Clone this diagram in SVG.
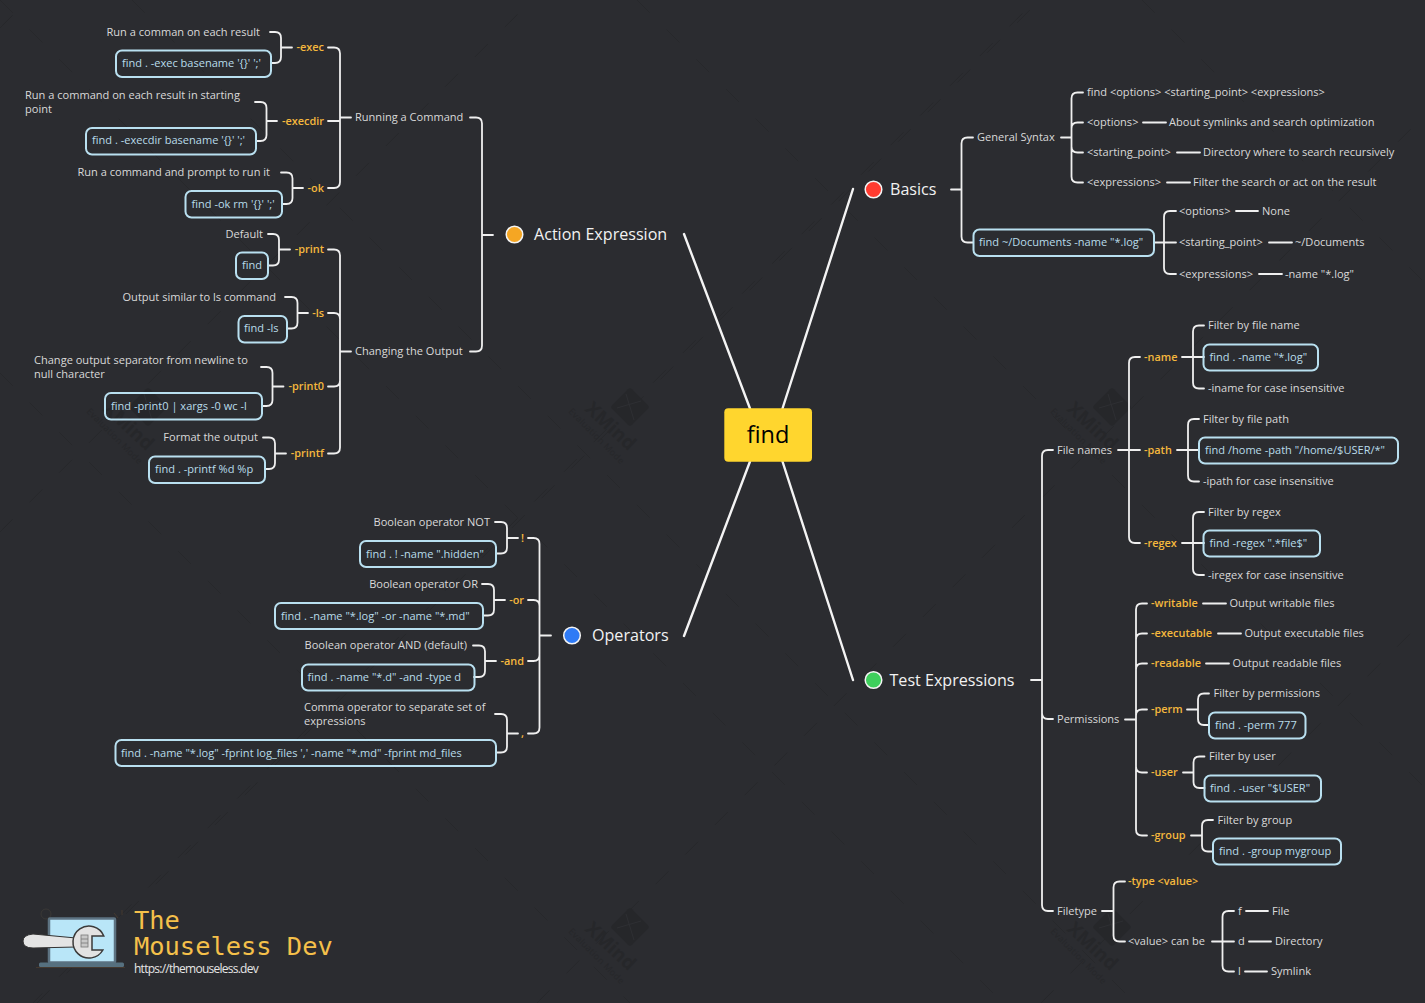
<svg xmlns="http://www.w3.org/2000/svg" width="1425" height="1003" viewBox="0 0 1425 1003">
<defs>
<g id="wm"><rect x="-14" y="-14" width="28" height="28" rx="3" transform="rotate(45)" fill="#26272a"/>
<path d="M-4 -13L4 13M-13 1L11 -6" stroke="#2e2f33" stroke-width="1" fill="none"/>
<g transform="translate(-46 3) rotate(43)"><text x="0" y="0" style="font-size:19px;font-weight:700;fill:#26272a;transform:none">XMind</text></g>
<g transform="translate(-62 5) rotate(45)"><text x="0" y="0" style="font-size:9px;fill:#26272a;letter-spacing:.3px;transform:none">Evaluation Mode</text></g></g>
</defs>
<style>
text{font-family:"Open Sans","Noto Sans","DejaVu Sans",sans-serif;font-size:11.05px;fill:#d9d9d9;transform:translateY(-.5px)}
.c{fill:#b9dcea}
.k{fill:#f5b83d;font-weight:600;font-size:10.9px}
.e{text-anchor:end}
.m{font-size:16.1px;fill:#f2f2f2}
.b{fill:none;stroke:#b9e0f0;stroke-width:2}
.n{stroke:#f4f4f4;stroke-width:1.5}
#watermark path.l{stroke:#27282b;stroke-width:1;stroke-dasharray:18 24;fill:none}
#connectors path{fill:none;stroke:#efefef;stroke-width:1.8;stroke-linecap:round}
#connectors path.t{stroke-width:2.4;stroke:#f4f4f4}
</style>
<rect width="1425" height="1003" fill="#2b2c30"/>
<g id="watermark">
<path class="l" d="M0 28L28 0M0 532L532 0M0 1036L1036 0M37 1003L1040 0M537 1003L1425 115M1041 1003L1425 619M0 373L630 1003M0 0L1003 1003M132 0L1135 1003M637 0L1425 788M1142 0L1425 283"/>
<use href="#wm" x="148" y="407"/><use href="#wm" x="630" y="407"/><use href="#wm" x="1112" y="407"/>
<use href="#wm" x="630" y="927"/><use href="#wm" x="1112" y="927"/>
</g>
<g id="connectors">
<path class="t" d="M853 189L782.500 408.500M684 234L750 408.500M750 461.500L684 636M782.500 461.500L853 680"/>
<path d="M951 189.500H961.500M973 137.500H967.500Q961.500 137.500 961.500 143.500V236.500Q961.500 242.500 967.500 242.500H973"/>
<path d="M1061 137.500H1071.500M1083 92.500H1077.500Q1071.500 92.500 1071.500 98.500V176.500Q1071.500 182.500 1077.500 182.500H1083M1083 122.500H1077.500Q1071.500 122.500 1071.500 128.500M1083 152.500H1077.500Q1071.500 152.500 1071.500 146.500"/>
<path d="M1143 122.500H1166M1177 152.500H1200M1167 182.500H1190"/>
<path d="M1154 242.500H1176M1176 211H1170Q1164 211 1164 217V268Q1164 274 1170 274H1176"/>
<path d="M1236 211H1258M1269 242.500H1292M1259 274H1282"/>
<path d="M1031 680H1042M1053 450H1048Q1042 450 1042 456V905Q1042 911 1048 911H1053M1053 719H1048Q1042 719 1042 713"/>
<path d="M1118 450H1140M1140 357H1135Q1129 357 1129 363V537Q1129 543 1135 543H1140"/>
<path d="M1182 357H1204M1204 325.500H1199Q1193 325.500 1193 331.500V382.500Q1193 388.500 1199 388.500H1204"/>
<path d="M1177 450H1199M1199 419H1194Q1188 419 1188 425V475.500Q1188 481.500 1194 481.500H1199"/>
<path d="M1182 543H1204M1204 512H1199Q1193 512 1193 518V569Q1193 575 1199 575H1204"/>
<path d="M1125 719.500H1136M1147 603.500H1142Q1136 603.500 1136 609.500V829.500Q1136 835.500 1142 835.500H1147M1147 633.500H1142Q1136 633.500 1136 639.500M1147 663.500H1142Q1136 663.500 1136 669.500M1147 709.500H1142Q1136 709.500 1136 715.500M1147 772.500H1142Q1136 772.500 1136 766.500"/>
<path d="M1203 603.500H1226M1218 633.500H1241M1206 663.500H1229"/>
<path d="M1187 709.500H1198M1209 693.500H1204Q1198 693.500 1198 699.500V719Q1198 725 1204 725H1209"/>
<path d="M1183 772.500H1193.500M1204.500 756.500H1199.500Q1193.500 756.500 1193.500 762.500V782Q1193.500 788 1199.500 788H1204.500"/>
<path d="M1191 835.500H1202M1213 820H1208Q1202 820 1202 826V845.500Q1202 851.500 1208 851.500H1213"/>
<path d="M1102 911H1113.500M1125 881.500H1119.500Q1113.500 881.500 1113.500 887.500V935.500Q1113.500 941.500 1119.500 941.500H1125"/>
<path d="M1212 941.500H1234M1234 911H1228.500Q1222.500 911 1222.500 917V965.500Q1222.500 971.500 1228.500 971.500H1234"/>
<path d="M1246 911H1268M1249 941.500H1271M1245 971.500H1267"/>
<path d="M493 235H482M470 117.500H476Q482 117.500 482 123.500V345.500Q482 351.500 476 351.500H470"/>
<path d="M351 117.500H340M328 47.500H334Q340 47.500 340 53.500V182Q340 188 334 188H328M328 121H340"/>
<path d="M292 47.500H281M270 32H275Q281 32 281 38V57Q281 63 275 63H271"/>
<path d="M277 121H266.500M255 102H260.500Q266.500 102 266.500 108V135Q266.500 141 260.500 141H256"/>
<path d="M303 188H292.500M281 172.500H286.500Q292.500 172.500 292.500 178.500V198Q292.500 204 286.500 204H282"/>
<path d="M351 351.500H340M328 249.500H334Q340 249.500 340 255.500V447.500Q340 453.500 334 453.500H328M328 313H334Q340 313 340 319M328 386.500H334Q340 386.500 340 380.500"/>
<path d="M290 249.500H279M268 234H273Q279 234 279 240V259.500Q279 265.500 273 265.500H268"/>
<path d="M308 313H297.500M285 297H291.500Q297.500 297 297.500 303V322.500Q297.500 328.500 291.500 328.500H287"/>
<path d="M283.500 386.500H272.500M261 367H266.500Q272.500 367 272.500 373V400Q272.500 406 266.500 406H262"/>
<path d="M286 453.500H275M263 437.500H269Q275 437.500 275 443.500V463Q275 469 269 469H265"/>
<path d="M551 635.500H539.500M528 538H533.500Q539.500 538 539.500 544V727.500Q539.500 733.500 533.500 733.500H528M528 600H533.500Q539.500 600 539.500 606M528 661H533.500Q539.500 661 539.500 655"/>
<path d="M518 538H507M495 522H501Q507 522 507 528V547.500Q507 553.500 501 553.500H496"/>
<path d="M505 600H494M482 584H488Q494 584 494 590V609.500Q494 615.500 488 615.500H483"/>
<path d="M496 661H485M473 645.500H479Q485 645.500 485 651.500V671Q485 677 479 677H474"/>
<path d="M518 733.500H507M495 714H501Q507 714 507 720V746.500Q507 752.500 501 752.500H496"/>
</g>
<g id="find"><rect x="724.300" y="408.300" width="87.700" height="53.400" rx="4" fill="#ffd62e"/><text x="768" y="443" text-anchor="middle" style="font-size:23.500px;fill:#000">find</text></g>
<g id="basics"><circle cx="873.500" cy="189.500" r="8.300" fill="#ff3b30" class="n"/><text class="m" x="890" y="195.500">Basics</text>
<text x="977" y="141.500">General Syntax</text>
<text x="1087" y="96.500">find &lt;options&gt; &lt;starting_point&gt; &lt;expressions&gt;</text>
<text x="1087" y="126.500">&lt;options&gt;</text><text x="1169" y="126.500">About symlinks and search optimization</text>
<text x="1087" y="156.500">&lt;starting_point&gt;</text><text x="1203" y="156.500">Directory where to search recursively</text>
<text x="1087" y="186.500">&lt;expressions&gt;</text><text x="1193" y="186.500">Filter the search or act on the result</text>
<rect class="b" x="973.500" y="229.500" width="180.500" height="26.500" rx="6"/><text class="c" x="979" y="246.500">find ~/Documents -name "*.log"</text>
<text x="1179" y="215">&lt;options&gt;</text><text x="1262" y="215">None</text>
<text x="1179" y="246.500">&lt;starting_point&gt;</text><text x="1295" y="246.500">~/Documents</text>
<text x="1179" y="278">&lt;expressions&gt;</text><text x="1285" y="278">-name "*.log"</text></g>
<g id="test-expressions"><circle cx="873.500" cy="680" r="8.300" fill="#3ecf5c" class="n"/><text class="m" x="889.500" y="686">Test Expressions</text>
<text x="1057" y="454">File names</text>
<text class="k" x="1144" y="361">-name</text><text x="1208" y="329.500">Filter by file name</text>
<rect class="b" x="1203.500" y="344.500" width="114.500" height="26" rx="6"/><text class="c" x="1209.500" y="361">find . -name "*.log"</text><text x="1208" y="392.500">-iname for case insensitive</text>
<text class="k" x="1144" y="454">-path</text><text x="1203" y="423">Filter by file path</text>
<rect class="b" x="1199" y="437.500" width="199" height="26" rx="6"/><text class="c" x="1205" y="454">find /home -path "/home/$USER/*"</text><text x="1203" y="485.500">-ipath for case insensitive</text>
<text class="k" x="1144" y="547">-regex</text><text x="1208" y="516">Filter by regex</text>
<rect class="b" x="1203.500" y="530.500" width="116.500" height="26" rx="6"/><text class="c" x="1209.500" y="547">find -regex ".*file$"</text><text x="1208" y="579">-iregex for case insensitive</text>
<text x="1057" y="723">Permissions</text>
<text class="k" x="1151" y="607.500">-writable</text><text x="1229.500" y="607.500">Output writable files</text>
<text class="k" x="1151" y="637.500">-executable</text><text x="1244.500" y="637.500">Output executable files</text>
<text class="k" x="1151" y="667.500">-readable</text><text x="1232.500" y="667.500">Output readable files</text>
<text class="k" x="1151" y="713.500">-perm</text><text x="1213.500" y="697.500">Filter by permissions</text>
<rect class="b" x="1209" y="712.500" width="96.500" height="26" rx="6"/><text class="c" x="1215" y="729">find . -perm 777</text>
<text class="k" x="1151" y="776.500">-user</text><text x="1209" y="760.500">Filter by user</text>
<rect class="b" x="1204.500" y="775.500" width="116.500" height="26" rx="6"/><text class="c" x="1210" y="792">find . -user "$USER"</text>
<text class="k" x="1151" y="839.500">-group</text><text x="1217.500" y="824">Filter by group</text>
<rect class="b" x="1213" y="838.500" width="128" height="26" rx="6"/><text class="c" x="1219" y="855.500">find . -group mygroup</text>
<text x="1057" y="915">Filetype</text>
<text class="k" x="1128" y="885.500">-type &lt;value&gt;</text><text x="1128" y="945.500">&lt;value&gt; can be</text>
<text x="1238" y="915">f</text><text x="1272" y="915">File</text>
<text x="1238" y="945.500">d</text><text x="1275" y="945.500">Directory</text>
<text x="1238" y="975.500">l</text><text x="1271" y="975.500">Symlink</text></g>
<g id="action-expression"><circle cx="514.500" cy="234.500" r="8.300" fill="#f5a623" class="n"/><text class="m" x="534" y="240.500">Action Expression</text>
<text x="355" y="121.500">Running a Command</text><text x="355" y="355.500">Changing the Output</text>
<text class="k e" x="324" y="51.500">-exec</text><text class="e" x="260" y="36">Run a comman on each result</text>
<rect class="b" x="116" y="50.500" width="155" height="26.500" rx="6"/><text class="c" x="122" y="67">find . -exec basename '{}' ';'</text>
<text class="k e" x="324" y="125">-execdir</text><text x="25" y="99">Run a command on each result in starting<tspan x="25" dy="14">point</tspan></text>
<rect class="b" x="86" y="128" width="170" height="26.500" rx="6"/><text class="c" x="92" y="144.500">find . -execdir basename '{}' ';'</text>
<text class="k e" x="324" y="192">-ok</text><text class="e" x="270" y="176.500">Run a command and prompt to run it</text>
<rect class="b" x="185.500" y="191" width="96.500" height="26.500" rx="6"/><text class="c" x="191.500" y="208">find -ok rm '{}' ';'</text>
<text class="k e" x="324" y="253.500">-print</text><text class="e" x="263" y="238">Default</text>
<rect class="b" x="236" y="252.500" width="32" height="26.500" rx="6"/><text class="c" x="242" y="269.500">find</text>
<text class="k e" x="324" y="317">-ls</text><text class="e" x="276" y="301">Output similar to ls command</text>
<rect class="b" x="238.500" y="316" width="48.500" height="26.500" rx="6"/><text class="c" x="244" y="332.500">find -ls</text>
<text class="k e" x="324" y="390.500">-print0</text><text x="34" y="364">Change output separator from newline to<tspan x="34" dy="14">null character</tspan></text>
<rect class="b" x="105" y="393" width="157" height="26.500" rx="6"/><text class="c" x="111" y="410">find -print0 | xargs -0 wc -l</text>
<text class="k e" x="324" y="457.500">-printf</text><text class="e" x="258" y="441.500">Format the output</text>
<rect class="b" x="149" y="456.500" width="116" height="26.500" rx="6"/><text class="c" x="155" y="473">find . -printf %d %p</text></g>
<g id="operators"><circle cx="572" cy="635.500" r="8.300" fill="#2f7bf6" class="n"/><text class="m" x="592" y="641.500">Operators</text>
<text class="k e" x="524" y="542">!</text><text class="e" x="490" y="526">Boolean operator NOT</text>
<rect class="b" x="360" y="541" width="136" height="26" rx="6"/><text class="c" x="366" y="558">find . ! -name ".hidden"</text>
<text class="k e" x="524" y="604">-or</text><text class="e" x="478" y="588">Boolean operator OR</text>
<rect class="b" x="275" y="603" width="208" height="26" rx="6"/><text class="c" x="281" y="620">find . -name "*.log" -or -name "*.md"</text>
<text class="k e" x="524" y="665">-and</text><text class="e" x="467" y="649.500">Boolean operator AND (default)</text>
<rect class="b" x="302" y="664.500" width="172.500" height="26" rx="6"/><text class="c" x="307.500" y="681">find . -name "*.d" -and -type d</text>
<text class="k e" x="524" y="737.500">,</text><text x="304" y="711">Comma operator to separate set of<tspan x="304" dy="14">expressions</tspan></text>
<rect class="b" x="115.500" y="740" width="380.500" height="26" rx="6"/><text class="c" x="121" y="757">find . -name "*.log" -fprint log_files ',' -name "*.md" -fprint md_files</text></g>
<g id="logo">
<circle cx="46" cy="914" r="5" fill="none" stroke="#3a3836" stroke-width="1"/>
<path d="M114 913L118 918M122 910V915M36 967.500H125" stroke="#45392f" stroke-width="1" fill="none"/>
<rect x="49" y="918.500" width="66" height="44" rx="1" fill="#b9e6f8" stroke="#5d7382" stroke-width="2.500"/>
<rect x="39" y="962.500" width="85" height="4.500" rx="1.500" fill="#56707f"/>
<path d="M33 934Q23 935 23 941Q23 948 33 948L76 947V938Z" fill="#e4e4e4" stroke="#333" stroke-width="1"/>
<path d="M103.800 936A16 16 0 1 0 102.900 950H92V936Z" fill="#e2e2e2" stroke="#3a3a3a" stroke-width="1.500"/>
<rect x="81" y="935" width="7" height="12" fill="#c8c8c8" stroke="#777" stroke-width=".8"/>
<path d="M81 939H88M81 943H88" stroke="#777" stroke-width=".8"/>
<text x="134" y="929" style="font-family:'DejaVu Sans Mono',monospace;font-size:25.400px;fill:#f5c04a">The<tspan x="134" dy="26">Mouseless Dev</tspan></text>
<text x="134" y="973.500" style="font-size:12px;letter-spacing:-.75px;fill:#e6e6e6">https://themouseless.dev</text>
</g>
</svg>
